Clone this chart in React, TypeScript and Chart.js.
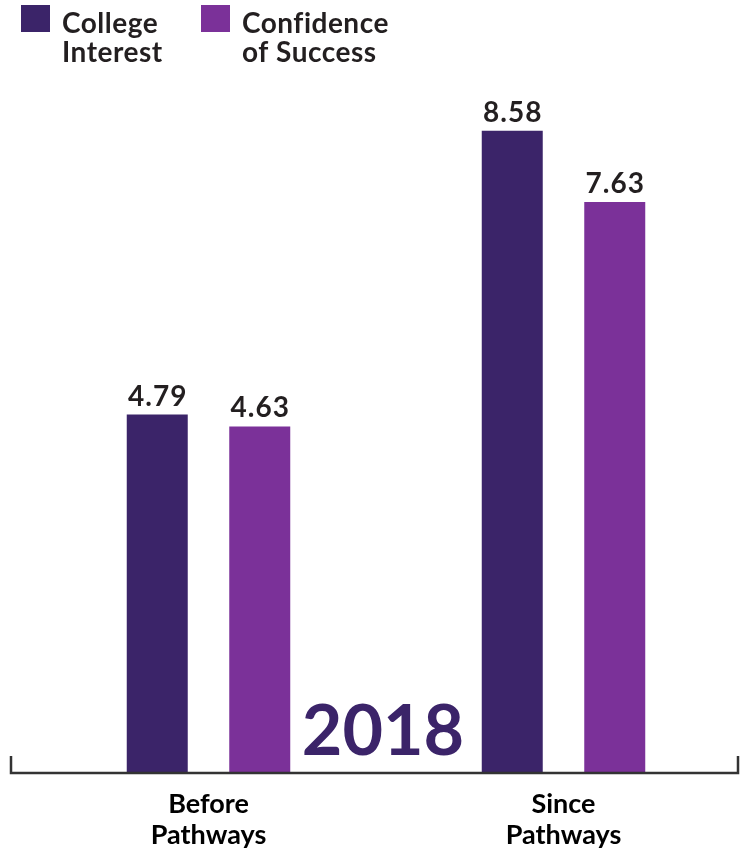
import React, { useEffect, useRef } from "react";
import { Chart, registerables } from "chart.js";

Chart.register(...registerables);

const categories: string[][] = [["Before", "Pathways"], ["Since", "Pathways"]];
const collegeInterest: number[] = [4.79, 8.58];
const confidenceOfSuccess: number[] = [4.63, 7.63];
const seriesLabels: string[][] = [["College", "Interest"], ["Confidence", "of Success"]];
const yearLabel = "2018";

const DARK = "#3b2469";
const PURPLE = "#7b3199";
const TEXT = "#231f20";
const FONT = "Lato, 'Open Sans', 'DejaVu Sans', sans-serif";

const overlayPlugin = {
  id: "overlay",
  afterDatasetsDraw(chart: any) {
    const ctx = chart.ctx as CanvasRenderingContext2D;
    ctx.save();
    // value labels
    ctx.fillStyle = TEXT;
    ctx.font = `bold 28px ${FONT}`;
    (ctx as any).letterSpacing = "1px";
    ctx.textAlign = "center";
    ctx.textBaseline = "alphabetic";
    chart.data.datasets.forEach((ds: any, di: number) => {
      const meta = chart.getDatasetMeta(di);
      meta.data.forEach((el: any, i: number) => {
        ctx.fillText(Number(ds.data[i]).toFixed(2), el.x + 0.5, el.y - 9);
      });
    });
    (ctx as any).letterSpacing = "0px";
    // year label
    const xs = chart.scales.x;
    const ys = chart.scales.y;
    ctx.fillStyle = DARK;
    ctx.font = `bold 70px ${FONT}`;
    ctx.fillText(yearLabel, (xs.left + xs.right) / 2 - 3, ys.bottom - 18);
    // axis bracket
    ctx.strokeStyle = "#333333";
    ctx.lineWidth = 2.5;
    ctx.beginPath();
    ctx.moveTo(11, ys.bottom - 17);
    ctx.lineTo(11, ys.bottom);
    ctx.lineTo(738, ys.bottom);
    ctx.lineTo(738, ys.bottom - 17);
    ctx.stroke();
    // legend
    const swX = [21, 201];
    chart.data.datasets.forEach((ds: any, di: number) => {
      ctx.fillStyle = ds.backgroundColor;
      ctx.fillRect(swX[di], 5, 29, 27);
      ctx.fillStyle = TEXT;
      ctx.font = `bold 28px ${FONT}`;
      (ctx as any).letterSpacing = "0.5px";
      ctx.textAlign = "left";
      seriesLabels[di].forEach((line, li) => {
        ctx.fillText(line, swX[di] + 41, 33 + li * 29);
      });
      (ctx as any).letterSpacing = "0px";
    });
    ctx.restore();
  },
};

export default function App() {
  const ref = useRef<HTMLCanvasElement>(null);
  useEffect(() => {
    if (!ref.current) return;
    const chart = new Chart(ref.current, {
      type: "bar",
      data: {
        labels: categories,
        datasets: [
          {
            label: seriesLabels[0].join(" "),
            data: collegeInterest,
            backgroundColor: DARK,
            categoryPercentage: 0.5775,
            barPercentage: 0.595,
          },
          {
            label: seriesLabels[1].join(" "),
            data: confidenceOfSuccess,
            backgroundColor: PURPLE,
            categoryPercentage: 0.5775,
            barPercentage: 0.595,
          },
        ],
      },
      options: {
        responsive: false,
        animation: false,
        layout: { padding: { left: 31, right: 6, top: 62, bottom: 0 } },
        plugins: { legend: { display: false }, tooltip: { enabled: false } },
        scales: {
          y: { display: false, min: 0, max: 9.5 },
          x: {
            grid: { display: false, drawTicks: false },
            border: { display: false },
            ticks: {
              color: "#000000",
              padding: 16,
              font: { family: FONT, size: 27, weight: "bold", lineHeight: 1.148 },
            },
            afterFit(scale: any) {
              scale.height = 79;
            },
          },
        },
      },
      plugins: [overlayPlugin],
    });
    return () => chart.destroy();
  }, []);
  return (
    <div style={{ position: "fixed", left: 0, top: 0, width: 747, height: 852, background: "#fff" }}>
      <canvas ref={ref} width={747} height={852} />
    </div>
  );
}
